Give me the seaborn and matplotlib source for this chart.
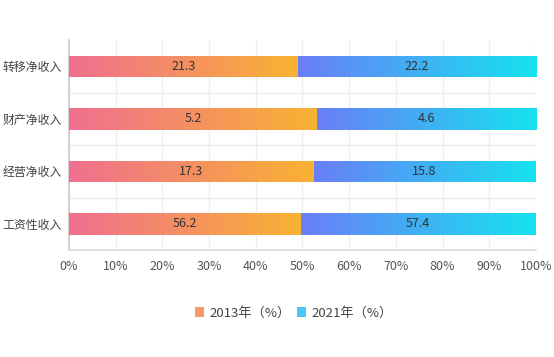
import numpy as np
import pandas as pd
import seaborn as sns
import matplotlib.pyplot as plt
from matplotlib.colors import LinearSegmentedColormap
from matplotlib.patches import Patch

# data
categories = ['转移净收入', '财产净收入', '经营净收入', '工资性收入']
val_2013 = [21.3, 5.2, 17.3, 56.2]
val_2021 = [22.2, 4.6, 15.8, 57.4]
series_names = ['2013年（%）', '2021年（%）']

df = pd.DataFrame({'cat': categories, 'v13': val_2013, 'v21': val_2021})
df['total'] = df['v13'] + df['v21']
df['p13'] = df['v13'] / df['total'] * 100
df['p100'] = 100.0

sns.set_theme(style='white')
plt.rcParams['font.family'] = ['Noto Sans CJK SC', 'DejaVu Sans']

fig = plt.figure(figsize=(5.54, 3.57), dpi=100)
ax = fig.add_axes([0.1245, 0.2997, 0.843, 0.588])

bw = 0.41
sns.barplot(data=df, x='p100', y='cat', orient='h', width=bw, ax=ax,
            color='#4cc4f5', saturation=1)
sns.barplot(data=df, x='p13', y='cat', orient='h', width=bw, ax=ax,
            color='#f89a6e', saturation=1)

cmap13 = LinearSegmentedColormap.from_list('c13', ['#f06f90', '#f9b232'])
cmap21 = LinearSegmentedColormap.from_list('c21', ['#6a7ef8', '#16e2ef'])
grad = np.linspace(0, 1, 256).reshape(1, -1)

patches = list(ax.patches)
tot_patches = patches[:4]
p13_patches = patches[4:8]
for i in range(4):
    tp = tot_patches[i]
    pp = p13_patches[i]
    y0 = tp.get_y()
    h = tp.get_height()
    p1 = df['p13'].iloc[i]
    for patch, x0, x1, cm, z in [(tp, p1, 100, cmap21, 2), (pp, 0, p1, cmap13, 3)]:
        patch.set_facecolor('none')
        patch.set_edgecolor('none')
        im = ax.imshow(grad, cmap=cm, aspect='auto', extent=[x0, x1, y0 + h, y0],
                       zorder=z, interpolation='bicubic')
        im.set_clip_path(patch)
    ax.text(p1 / 2, i, f'{val_2013[i]}', ha='center', va='center',
            fontsize=9, color='#333333', zorder=5)
    ax.text((p1 + 100) / 2, i, f'{val_2021[i]}', ha='center', va='center',
            fontsize=9, color='#333333', zorder=5)

ax.set_xlim(0, 100)
ax.set_ylim(3.5, -0.5)
ax.set_xticks(np.arange(0, 101, 10))
ax.set_xticklabels([f'{t}%' for t in range(0, 101, 10)])
ax.set_yticks(range(4))
ax.set_yticklabels(categories)
ax.set_yticks([0.5, 1.5, 2.5], minor=True)
ax.set_xlabel('')
ax.set_ylabel('')

ax.grid(axis='x', which='major', color='#eeeeee', linewidth=1, zorder=0)
ax.grid(axis='y', which='minor', color='#eeeeee', linewidth=1, zorder=0)
ax.set_axisbelow(True)
ax.tick_params(axis='x', length=0, pad=7, labelsize=9, colors='#555555')
ax.tick_params(axis='y', which='both', length=0, pad=5, labelsize=8.6, colors='#444444')

for s in ['top', 'right']:
    ax.spines[s].set_visible(False)
ax.spines['left'].set_color('#cccccc')
ax.spines['bottom'].set_color('#dddddd')

handles = [Patch(facecolor='#f89a6e', edgecolor='none'),
           Patch(facecolor='#4cc4f5', edgecolor='none')]
fig.legend(handles, series_names, loc='center', bbox_to_anchor=(0.53, 0.123),
           ncol=2, frameon=False, fontsize=9.5, handlelength=0.7, handleheight=0.7,
           handletextpad=0.4, columnspacing=0.5, labelcolor='#444444')

fig.savefig('out.png', dpi=100)
